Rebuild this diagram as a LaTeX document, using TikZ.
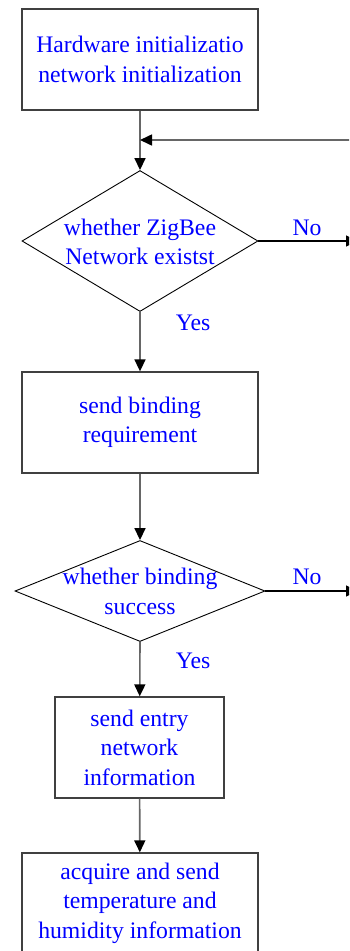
\documentclass[tikz,border=0pt]{standalone}
\usepackage{fontspec}
\setmainfont{Liberation Serif}
\usetikzlibrary{arrows.meta,shapes.geometric}

\begin{document}
\begin{tikzpicture}[x=1pt, y=-1pt,
    txt/.style={text=blue, align=center, inner sep=0pt, font=\fontsize{23.7}{29.5}\selectfont},
    proc/.style={draw=black!75, line width=1.3pt, minimum width=236pt, minimum height=101pt, inner sep=0pt, txt},
    decision/.style={diamond, draw=black, line width=0.9pt, inner sep=0pt, minimum width=236pt, minimum height=141pt},
    flow/.style={draw=black!60, line width=1.6pt, -{Triangle[length=12pt, width=11pt, color=black]}}]
    \useasboundingbox (0,0) rectangle (349,951);
    \clip (0,0) rectangle (349,951);

    \node[proc] (init) at (140, 59.5) {Hardware initializatio\\network initialization};

    \node[decision] (exist) at (140, 241) {};
    \node[txt] (existtxt) at (140, 242) {whether ZigBee\\Network existst};

    \node[proc] (bind) at (140, 422.5) {send binding\\requirement};

    \node[decision, minimum width=250pt, minimum height=101pt] (bindok) at (140, 591) {};
    \node[txt] (bindoktxt) at (140, 591.5) {whether binding\\success};

    \node[proc, minimum width=169pt] (entry) at (139.5, 747.5) {send entry\\network\\information};

    \node[proc, minimum height=100pt] (acquire) at (140, 903) {acquire and send\\temperature and\\humidity information};

    % loop back and exits
    \coordinate (loopin) at (352, 140);
    \coordinate (loop) at (140, 140);
    \coordinate (noexist) at (358, 241);
    \coordinate (nobind) at (358, 591);

    \draw[flow] (init) -- (exist.north);
    \draw[flow] (loopin) -- (loop);
    \draw[flow] (exist.south) -- (bind);
    \draw[flow] (bind) -- (bindok.north);
    \draw[flow] (bindok.south) -- (entry);
    \draw[flow] (entry) -- (acquire);
    \draw[flow, draw=black, line width=1.1pt] (exist.east) -- (noexist);
    \draw[flow, draw=black, line width=1.1pt] (bindok.east) -- (nobind);

    \node[txt] (no1) at (307, 228) {No};
    \node[txt] (yes1) at (193, 323) {Yes};
    \node[txt] (no2) at (307, 577) {No};
    \node[txt] (yes2) at (193, 661) {Yes};
\end{tikzpicture}
\end{document}
